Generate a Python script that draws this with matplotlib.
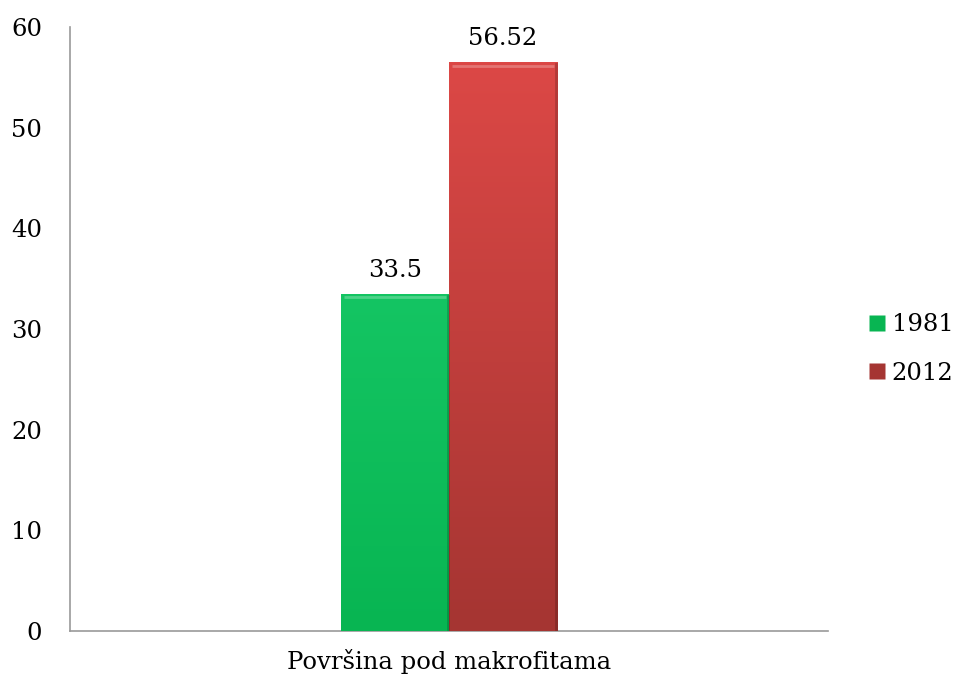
import numpy as np
import matplotlib.pyplot as plt
from matplotlib.colors import LinearSegmentedColormap
from matplotlib.lines import Line2D

category = "Površina pod makrofitama"
years = ["1981", "2012"]
values = [33.5, 56.52]
yticks = [0, 10, 20, 30, 40, 50, 60]

# top / bottom colours of each bar's gradient
grad = {"1981": ("#14c563", "#08b552"), "2012": ("#dc4846", "#a53532")}

plt.rcParams['font.family'] = ['DejaVu Serif']
fs = 17.5
fig = plt.figure(figsize=(9.62, 6.82), dpi=100)
ax = fig.add_axes([0.0728, 0.0748, 0.788, 0.8856])

width = 0.1425
offsets = [-width / 2, width / 2]
for yr, v, off in zip(years, values, offsets):
    bar = ax.bar(off, v, width=width, color=grad[yr][1], edgecolor="none", zorder=2)[0]
    cmap = LinearSegmentedColormap.from_list(yr, [grad[yr][1], grad[yr][0]])
    g = np.linspace(0, 1, 256).reshape(-1, 1)
    im = ax.imshow(g, cmap=cmap, aspect="auto", origin="lower",
                   extent=[off - width / 2, off + width / 2, 0, v], zorder=3)
    im.set_clip_path(bar)
    # thin bevel edges
    ax.plot([off - width / 2 + 0.004, off + width / 2 - 0.004], [v - 0.35, v - 0.35],
            color="white", alpha=0.25, lw=2, zorder=4, solid_capstyle="butt")
    ax.plot([off + width / 2 - 0.002] * 2, [0.2, v - 0.2], color="black", alpha=0.18,
            lw=2, zorder=4)
    ax.annotate(f"{v:g}", (off, v), xytext=(0, 12), textcoords="offset points",
                ha="center", va="baseline", fontsize=fs)

ax.set_xlim(-0.5, 0.5)
ax.set_ylim(0, 60)
ax.set_yticks(yticks)
ax.set_xticks([0])
ax.set_xticklabels([category])
ax.tick_params(axis="both", length=0, labelsize=fs)
ax.tick_params(axis="y", pad=20)
ax.tick_params(axis="x", pad=13)
for s in ["top", "right"]:
    ax.spines[s].set_visible(False)
for s in ["left", "bottom"]:
    ax.spines[s].set_color("#999999")
    ax.spines[s].set_linewidth(1.2)

handles = [Line2D([], [], marker="s", ls="none", markersize=12,
                  markerfacecolor=grad[y][1], markeredgecolor="none") for y in years]
fig.legend(handles, years, loc="center left", bbox_to_anchor=(0.879, 0.488),
           frameon=False, fontsize=fs, handletextpad=0.2, labelspacing=1.05,
           handlelength=0.8)

fig.savefig("out.png", dpi=100)
